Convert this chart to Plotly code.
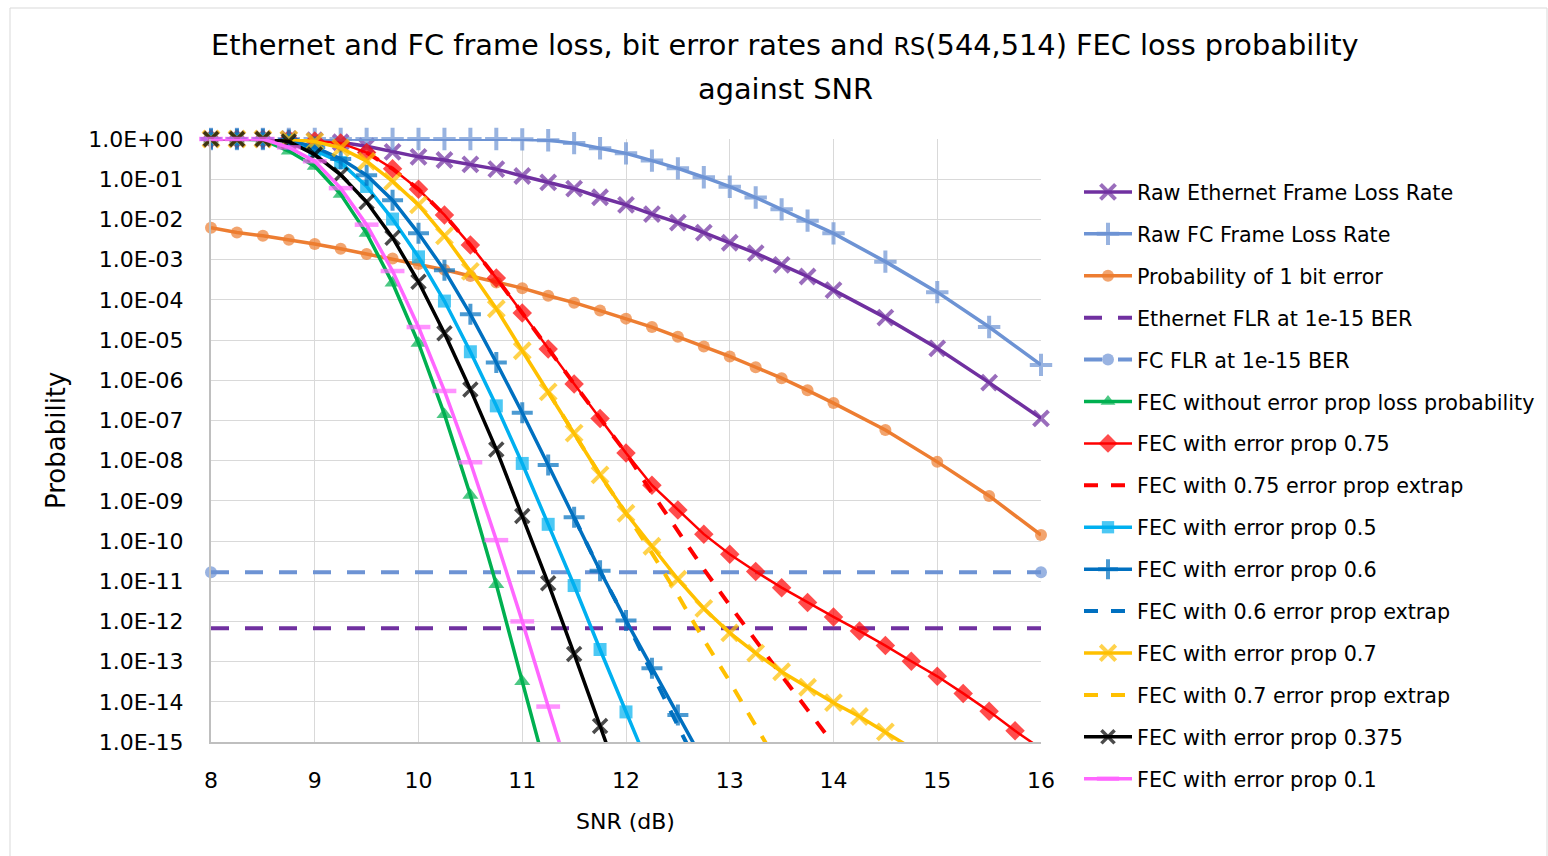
import plotly.graph_objects as go

# ---------------------------------------------------------------------------
# Data
# ---------------------------------------------------------------------------
snr_raw = [8.0, 8.25, 8.5, 8.75, 9.0, 9.25, 9.5, 9.75, 10.0, 10.25, 10.5, 10.75,
           11.0, 11.25, 11.5, 11.75, 12.0, 12.25, 12.5, 12.75, 13.0, 13.25, 13.5,
           13.75, 14.0, 14.5, 15.0, 15.5, 16.0]

snr_fec = [8.0, 8.25, 8.5, 8.75, 9.0, 9.25, 9.5, 9.75, 10.0, 10.25, 10.5, 10.75,
           11.0, 11.25, 11.5, 11.75, 12.0, 12.25, 12.5, 12.75, 13.0, 13.25, 13.5,
           13.75, 14.0, 14.25, 14.5, 14.75, 15.0, 15.25, 15.5, 15.75, 16.0]

raw_eth_flr = [1.0, 1.0, 1.0, 1.0, 0.93, 0.83, 0.66, 0.48, 0.36, 0.30, 0.234, 0.178,
               0.12, 0.083, 0.058, 0.0355, 0.0229, 0.0135, 8.3e-3, 4.7e-3, 2.63e-3,
               1.45e-3, 7.4e-4, 3.8e-4, 1.74e-4, 3.6e-5, 6.2e-6, 8.7e-7, 1.12e-7]

raw_fc_flr = [1.0, 1.0, 1.0, 1.0, 1.0, 1.0, 1.0, 1.0, 1.0, 1.0, 1.0, 1.0,
              0.98, 0.93, 0.79, 0.59, 0.44, 0.29, 0.186, 0.112, 0.065, 0.035,
              0.0178, 9.3e-3, 4.5e-3, 8.9e-4, 1.55e-4, 2.1e-5, 2.4e-6]

prob_1bit = [6.2e-3, 4.7e-3, 3.9e-3, 3.1e-3, 2.45e-3, 1.86e-3, 1.38e-3, 1.07e-3,
             7.8e-4, 5.6e-4, 3.9e-4, 2.7e-4, 1.95e-4, 1.26e-4, 8.5e-5, 5.4e-5,
             3.4e-5, 2.1e-5, 1.2e-5, 6.9e-6, 3.9e-6, 2.1e-6, 1.12e-6, 5.6e-7,
             2.7e-7, 5.8e-8, 9.3e-9, 1.32e-9, 1.41e-10]

flr_limit_x = [8.0, 16.0]
eth_flr_1e15 = [6.8e-13, 6.8e-13]
fc_flr_1e15 = [1.66e-11, 1.66e-11]

fec_no_prop = [1.0, 1.0, 0.95, 0.5, 0.21, 0.042, 4.5e-3, 2.6e-4, 8.3e-6, 1.41e-7,
               1.38e-9, 8.3e-12, 3.2e-14, 1.26e-16]

fec_prop_075 = [1.0, 1.0, 1.0, 0.98, 0.89, 0.79, 0.46, 0.182, 0.056, 0.0129, 2.3e-3,
                3.5e-4, 4.7e-5, 6.0e-6, 8.1e-7, 1.12e-7, 1.55e-8, 2.45e-9, 5.9e-10,
                1.48e-10, 4.7e-11, 1.74e-11, 6.9e-12, 2.95e-12, 1.29e-12, 5.8e-13,
                2.5e-13, 1.02e-13, 4.3e-14, 1.62e-14, 5.8e-15, 1.9e-15, 6.8e-16]

extrap_075_x = [9.5, 9.75, 10.0, 10.25, 10.5, 10.75, 11.0, 11.25, 11.5, 11.75, 12.0,
                12.25, 12.5, 12.75, 13.0, 13.25, 13.5, 13.75, 14.0]
extrap_075 = [0.46, 0.182, 0.056, 0.0129, 2.3e-3, 3.5e-4, 4.7e-5, 6.0e-6, 8.1e-7,
              1.12e-7, 1.55e-8, 1.58e-9, 1.78e-10, 2.0e-11, 2.5e-12, 3.2e-13,
              4.5e-14, 6.3e-15, 8.9e-16]

fec_prop_05 = [1.0, 1.0, 1.0, 0.93, 0.52, 0.26, 0.066, 0.0102, 1.17e-3, 9.3e-5,
               5.1e-6, 2.3e-7, 8.5e-9, 2.6e-10, 7.8e-12, 2.0e-13, 5.6e-15, 1.6e-16]

fec_prop_06 = [1.0, 1.0, 1.0, 0.95, 0.63, 0.32, 0.126, 0.030, 4.5e-3, 5.4e-4,
               4.4e-5, 2.75e-6, 1.55e-7, 7.8e-9, 3.9e-10, 1.82e-11, 1.05e-12,
               6.8e-14, 4.7e-15, 3.2e-16]

extrap_06_x = [11.5, 11.75, 12.0, 12.25, 12.5, 12.75]
extrap_06 = [3.9e-10, 1.82e-11, 1.05e-12, 5.0e-14, 2.5e-15, 1.26e-16]

fec_prop_07 = [1.0, 1.0, 1.0, 0.98, 0.87, 0.60, 0.28, 0.089, 0.023, 3.9e-3, 5.1e-4,
               6.0e-5, 5.4e-6, 5.1e-7, 4.8e-8, 4.4e-9, 4.9e-10, 7.4e-11, 1.12e-11,
               2.1e-12, 5.2e-13, 1.62e-13, 5.6e-14, 2.3e-14, 9.5e-15, 4.3e-15,
               1.78e-15, 7.1e-16]

extrap_07_x = [11.25, 11.5, 11.75, 12.0, 12.25, 12.5, 12.75, 13.0, 13.25, 13.5]
extrap_07 = [5.1e-7, 4.8e-8, 4.4e-9, 4.9e-10, 5.0e-11, 4.5e-12, 3.5e-13, 3.2e-14,
             2.5e-15, 2.0e-16]

fec_prop_0375 = [1.0, 1.0, 1.0, 0.87, 0.41, 0.129, 0.027, 3.5e-3, 2.8e-4, 1.48e-5,
                 5.9e-7, 1.9e-8, 4.2e-10, 8.9e-12, 1.55e-13, 2.5e-15, 4.0e-17]

fec_prop_01 = [1.0, 1.0, 1.0, 0.62, 0.28, 0.060, 7.4e-3, 5.2e-4, 2.1e-5, 5.4e-7,
               9.1e-9, 1.05e-10, 1.0e-12, 7.6e-15, 6.3e-17]

y_tick_vals = [1e0, 1e-1, 1e-2, 1e-3, 1e-4, 1e-5, 1e-6, 1e-7, 1e-8, 1e-9, 1e-10,
               1e-11, 1e-12, 1e-13, 1e-14, 1e-15]
y_tick_text = ["1.0E+00", "1.0E-01", "1.0E-02", "1.0E-03", "1.0E-04", "1.0E-05",
               "1.0E-06", "1.0E-07", "1.0E-08", "1.0E-09", "1.0E-10", "1.0E-11",
               "1.0E-12", "1.0E-13", "1.0E-14", "1.0E-15"]
x_tick_vals = [8, 9, 10, 11, 12, 13, 14, 15, 16]

Y_FLOOR = 1e-15  # bottom of the probability axis

FONT = "DejaVu Sans"

fig = go.Figure()


def sizes(vals, size):
    # hide markers that fall below the axis floor
    return [size if v >= Y_FLOOR * 0.999 else 0 for v in vals]


def add_series(name, x, y, color, width=3.5, dash="solid", symbol=None, msize=10,
               mline=0):
    mode = "lines+markers" if symbol else "lines"
    marker = None
    if symbol:
        marker = dict(symbol=symbol, size=sizes(y, msize), color=color,
                      line=dict(color=color, width=mline))
    fig.add_trace(go.Scatter(
        x=x, y=y, name=name, mode=mode, legendgroup=name,
        line=dict(color=color, width=width, dash=dash),
        marker=marker, cliponaxis=False,
    ))


add_series("Raw Ethernet Frame Loss Rate", snr_raw, raw_eth_flr, "#7030A0",
           symbol="x-thin", msize=15, mline=4)
add_series("Raw FC Frame Loss Rate", snr_raw, raw_fc_flr, "#6D93D4",
           symbol="cross-thin", msize=16, mline=4)
add_series("Probability of 1 bit error", snr_raw, prob_1bit, "#ED7D31",
           symbol="circle", msize=12)
add_series("Ethernet FLR at 1e-15 BER", flr_limit_x, eth_flr_1e15, "#7030A0",
           width=4, dash="18px,16px")
add_series("FC FLR at 1e-15 BER", flr_limit_x, fc_flr_1e15, "#6D93D4",
           width=4, dash="18px,16px", symbol="circle", msize=12)
add_series("FEC without error prop loss probability", snr_fec[:len(fec_no_prop)],
           fec_no_prop, "#00B050", symbol="triangle-up", msize=14)
add_series("FEC with error prop 0.75", snr_fec[:len(fec_prop_075)], fec_prop_075,
           "#FF0000", width=2.5, symbol="diamond", msize=15)
add_series("FEC with 0.75 error prop extrap", extrap_075_x, extrap_075, "#FF0000",
           width=4, dash="14px,13px")
add_series("FEC with error prop 0.5", snr_fec[:len(fec_prop_05)], fec_prop_05,
           "#00B0F0", symbol="square", msize=13)
add_series("FEC with error prop 0.6", snr_fec[:len(fec_prop_06)], fec_prop_06,
           "#0070C0", symbol="cross-thin", msize=15, mline=4)
add_series("FEC with 0.6 error prop extrap", extrap_06_x, extrap_06, "#0070C0",
           width=4, dash="14px,13px")
add_series("FEC with error prop 0.7", snr_fec[:len(fec_prop_07)], fec_prop_07,
           "#FFC000", symbol="x-thin", msize=16, mline=4)
add_series("FEC with 0.7 error prop extrap", extrap_07_x, extrap_07, "#FFC000",
           width=4, dash="14px,13px")
add_series("FEC with error prop 0.375", snr_fec[:len(fec_prop_0375)], fec_prop_0375,
           "#000000", symbol="x-thin", msize=14, mline=3.5)
add_series("FEC with error prop 0.1", snr_fec[:len(fec_prop_01)], fec_prop_01,
           "#FF66FF", symbol="line-ew", msize=17, mline=4.5)

# plot area in pixels
L, R, T, B = 211, 1041, 139, 742
W, H = 1548, 856
pw, ph = R - L, B - T


def px(xp):
    return (xp - L) / pw


def py(yp):
    return (B - yp) / ph


fig.update_layout(
    width=W, height=H, autosize=False,
    margin=dict(l=L, r=W - R, t=T, b=H - B, pad=0, autoexpand=False),
    paper_bgcolor="white", plot_bgcolor="white",
    font=dict(family=FONT, color="#000000", size=20),
    showlegend=True,
    legend=dict(
        x=px(1079), y=py(172), xanchor="left", yanchor="top",
        font=dict(family=FONT, size=20.7, color="#000000"),
        itemwidth=48, tracegroupgap=12, bgcolor="rgba(0,0,0,0)",
        traceorder="grouped", maxheight=760,
    ),
    xaxis=dict(
        range=[8, 16], tickvals=x_tick_vals, showgrid=True, gridcolor="#D9D9D9",
        gridwidth=1, zeroline=False, showline=True, linecolor="#BFBFBF",
        linewidth=2, ticks="", tickfont=dict(family=FONT, size=22),
        ticklabelstandoff=18,
    ),
    yaxis=dict(
        type="log", range=[-15, 0], tickvals=y_tick_vals, ticktext=y_tick_text,
        showgrid=True, gridcolor="#D9D9D9", gridwidth=1, zeroline=False,
        showline=True, linecolor="#BFBFBF", linewidth=2, ticks="",
        tickfont=dict(family=FONT, size=22), ticklabelstandoff=21,
    ),
    annotations=[
        dict(text="Ethernet and FC frame loss, bit error rates and "
                  "<span style='font-size:24px'>RS</span>(544,514) FEC loss probability",
             x=px(785), y=py(45), xref="paper", yref="paper", showarrow=False,
             xanchor="center", yanchor="middle",
             font=dict(family=FONT, size=28.8, color="#000000")),
        dict(text="against SNR", x=px(785), y=py(89), xref="paper", yref="paper",
             showarrow=False, xanchor="center", yanchor="middle",
             font=dict(family=FONT, size=28.8, color="#000000")),
        dict(text="SNR (dB)", x=px(625), y=py(821), xref="paper", yref="paper",
             showarrow=False, xanchor="center", yanchor="middle",
             font=dict(family=FONT, size=22, color="#000000")),
        dict(text="Probability", x=px(56), y=py(441), xref="paper", yref="paper",
             showarrow=False, xanchor="center", yanchor="middle", textangle=-90,
             font=dict(family=FONT, size=26, color="#000000")),
    ],
    shapes=[
        dict(type="rect", xref="paper", yref="paper", x0=px(10), x1=px(1547),
             y0=py(870), y1=py(8), line=dict(color="#D9D9D9", width=1),
             fillcolor="rgba(0,0,0,0)", layer="below"),
    ],
)

fig.write_html("out.html")
